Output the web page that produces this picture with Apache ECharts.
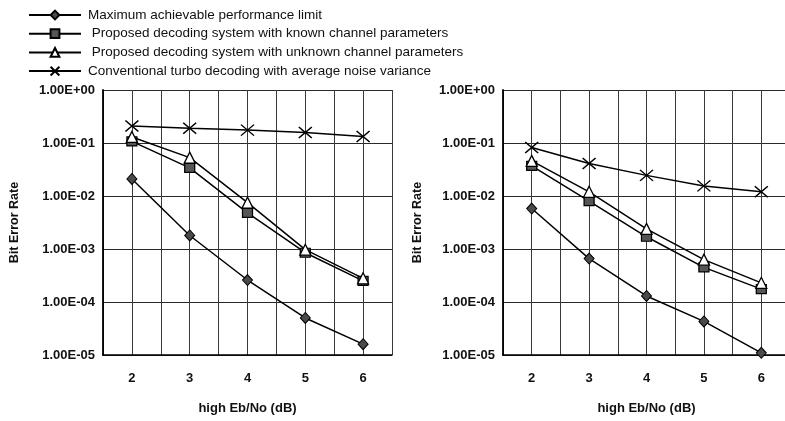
<!DOCTYPE html>
<html>
<head>
<meta charset="utf-8">
<style>
  html, body { margin: 0; padding: 0; background: #fff; }
  #chart { width: 785px; height: 421px; }
</style>
<script src="https://cdn.jsdelivr.net/npm/echarts@6/dist/echarts.min.js"></script>
</head>
<body>
<div id="chart"></div>
<script>
// Eb/No points (dB)
const ebno = [2, 3, 4, 5, 6];

// Series names (legend order)
const seriesNames = [
  'Maximum achievable performance limit',
  'Proposed decoding system with known channel parameters',
  'Proposed decoding system with unknown channel parameters',
  'Conventional turbo decoding with average noise variance'
];

// Left panel BER values
const leftMaxLimit   = [2.1e-2, 1.8e-3, 2.6e-4, 5.0e-5, 1.6e-5];
const leftKnown      = [1.07e-1, 3.4e-2, 4.8e-3, 8.5e-4, 2.5e-4];
const leftUnknown    = [1.3e-1, 5.3e-2, 7.5e-3, 9.7e-4, 2.8e-4];
const leftConvent    = [2.1e-1, 1.9e-1, 1.75e-1, 1.58e-1, 1.33e-1];

// Right panel BER values
const rightMaxLimit  = [5.8e-3, 6.6e-4, 1.3e-4, 4.3e-5, 1.1e-5];
const rightKnown     = [3.7e-2, 8.0e-3, 1.7e-3, 4.5e-4, 1.75e-4];
const rightUnknown   = [4.6e-2, 1.2e-2, 2.4e-3, 6.3e-4, 2.3e-4];
const rightConvent   = [8.2e-2, 4.1e-2, 2.45e-2, 1.55e-2, 1.2e-2];

// Y tick labels, from 1e-5 up to 1e0
const yTickLabels = ['1.00E-05', '1.00E-04', '1.00E-03', '1.00E-02', '1.00E-01', '1.00E+00'];

const FONT = 'Liberation Sans, Arial, sans-serif';

const crossPath = 'path://M0,0L10,10M10,0L0,10';

const markerStyles = [
  { symbol: 'diamond', symbolSize: [10, 11], itemStyle: { color: '#4a4a4a', borderColor: '#000', borderWidth: 1 } },
  { symbol: 'rect', symbolSize: [10, 9], itemStyle: { color: '#555', borderColor: '#000', borderWidth: 1.2 } },
  { symbol: 'triangle', symbolSize: [11, 11], itemStyle: { color: '#fff', borderColor: '#000', borderWidth: 1.3 } },
  { symbol: crossPath, symbolSize: [13, 11], itemStyle: { color: '#000', borderColor: '#000', borderWidth: 1.4 } }
];

function pair(xs, ys) {
  return xs.map((x, i) => [x, ys[i]]);
}

function makeSeries(panel, arrays) {
  return arrays.map((vals, k) => Object.assign({
    name: seriesNames[k],
    type: 'line',
    xAxisIndex: panel,
    yAxisIndex: panel,
    data: pair(ebno, vals),
    lineStyle: { color: '#000', width: 1.5 },
    showAllSymbol: true,
    z: 2 + k
  }, markerStyles[k]));
}

function xAxisFor(gridIndex) {
  return {
    type: 'value',
    gridIndex: gridIndex,
    min: 1.5,
    max: 6.5,
    interval: 0.5,
    name: 'high Eb/No (dB)',
    nameLocation: 'middle',
    nameGap: 47,
    nameTextStyle: { fontFamily: FONT, fontWeight: 'bold', fontSize: 13, color: '#111' },
    axisLine: { show: true, lineStyle: { color: '#000', width: 1.5 } },
    axisTick: { show: false },
    axisLabel: {
      margin: 17,
      fontFamily: FONT, fontWeight: 'bold', fontSize: 13, color: '#111',
      formatter: v => (Number.isInteger(v) ? String(v) : '')
    },
    splitLine: { show: true, lineStyle: { color: '#3a3a3a', width: 1 } }
  };
}

function yAxisFor(gridIndex, gap) {
  return {
    type: 'log',
    logBase: 10,
    gridIndex: gridIndex,
    min: 1e-5,
    max: 1,
    interval: 1,
    name: 'Bit Error Rate',
    nameLocation: 'middle',
    nameGap: gap,
    nameTextStyle: { fontFamily: FONT, fontWeight: 'bold', fontSize: 12.5, color: '#111' },
    axisLine: { show: true, lineStyle: { color: '#000', width: 1.8 } },
    axisTick: { show: false },
    axisLabel: {
      margin: 8,
      fontFamily: FONT, fontWeight: 'bold', fontSize: 13, color: '#111',
      formatter: v => {
        const e = Math.round(Math.log10(v));
        return yTickLabels[e + 5];
      }
    },
    splitLine: { show: true, lineStyle: { color: '#2a2a2a', width: 1 } },
    minorSplitLine: { show: false }
  };
}

const chart = echarts.init(document.getElementById('chart'), null, { renderer: 'canvas' });

chart.setOption({
  animation: false,
  backgroundColor: '#fff',
  legend: {
    orient: 'vertical',
    left: 28,
    top: 8,
    padding: 0,
    itemWidth: 52,
    itemHeight: 11,
    itemGap: 4.7,
    data: seriesNames,
    formatter: name => (name.indexOf('Proposed') === 0 ? ' ' + name : name),
    textStyle: { fontFamily: FONT, fontSize: 13.5, color: '#111', padding: [0, 0, 0, 2] }
  },
  grid: [
    { left: 103, top: 90, width: 289, height: 265, outerBoundsMode: 'none' },
    { left: 503, top: 90, width: 287, height: 265, outerBoundsMode: 'none' }
  ],
  xAxis: [xAxisFor(0), xAxisFor(1)],
  yAxis: [yAxisFor(0, 82), yAxisFor(1, 79)],
  series: makeSeries(0, [leftMaxLimit, leftKnown, leftUnknown, leftConvent])
    .concat(makeSeries(1, [rightMaxLimit, rightKnown, rightUnknown, rightConvent]))
});
</script>
</body>
</html>
